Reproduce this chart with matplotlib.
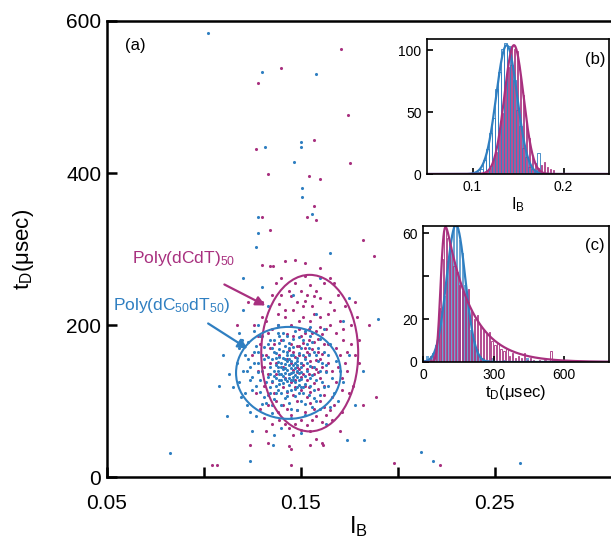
import math

import numpy as np
import matplotlib
matplotlib.use("Agg")
import matplotlib.pyplot as plt
from matplotlib.patches import Ellipse

plt.rcParams['font.family'] = ['Liberation Sans', 'DejaVu Sans']
plt.rcParams['mathtext.fontset'] = 'custom'
plt.rcParams['mathtext.rm'] = 'Liberation Sans'
plt.rcParams['mathtext.it'] = 'Liberation Sans:italic'

MAG = '#a8307f'
BLUE = '#2f7fc1'

# ---- panel (a): scatter of (I_B, t_D) per event --------------------------
blue_pts = [
    (0.141, 142), (0.146, 138), (0.138, 151), (0.150, 129), (0.143, 160),
    (0.136, 133), (0.148, 147), (0.144, 121), (0.139, 168), (0.152, 155),
    (0.147, 116), (0.134, 145), (0.142, 129), (0.149, 163), (0.137, 120),
    (0.145, 152), (0.153, 139), (0.140, 111), (0.146, 171), (0.133, 158),
    (0.151, 118), (0.144, 135), (0.138, 140), (0.148, 132), (0.142, 149),
    (0.155, 146), (0.136, 164), (0.147, 125), (0.141, 157), (0.150, 170),
    (0.139, 128), (0.145, 144), (0.152, 123), (0.143, 113), (0.137, 148),
    (0.149, 137), (0.135, 126), (0.146, 160), (0.140, 135), (0.154, 160),
    (0.128, 150), (0.125, 132), (0.131, 171), (0.129, 112), (0.126, 165),
    (0.132, 98), (0.124, 145), (0.130, 186), (0.127, 120), (0.133, 108),
    (0.158, 128), (0.161, 150), (0.157, 104), (0.163, 138), (0.159, 170),
    (0.156, 92), (0.162, 118), (0.160, 182), (0.164, 160), (0.157, 145),
    (0.140, 95), (0.145, 90), (0.150, 100), (0.136, 102), (0.148, 88),
    (0.143, 186), (0.138, 190), (0.149, 184), (0.134, 180), (0.152, 192),
    (0.120, 140), (0.118, 125), (0.121, 160), (0.119, 105), (0.166, 130),
    (0.168, 152), (0.167, 110), (0.123, 178), (0.165, 175), (0.122, 95),
    (0.130, 140), (0.133, 132), (0.131, 155), (0.156, 134), (0.155, 120),
    (0.153, 175), (0.129, 128), (0.134, 118), (0.158, 160), (0.154, 108),
    (0.142, 104), (0.147, 106), (0.137, 110), (0.144, 176), (0.141, 180),
    (0.151, 110), (0.139, 176), (0.146, 182), (0.135, 170), (0.150, 150),
    (0.143, 141), (0.147, 143), (0.144, 130), (0.139, 136), (0.141, 124),
    (0.148, 153), (0.145, 127), (0.142, 137), (0.149, 121), (0.137, 156),
    (0.144, 147), (0.140, 150), (0.146, 132), (0.142, 155), (0.148, 140),
    (0.138, 145), (0.145, 160), (0.143, 126), (0.150, 145), (0.141, 166),
    (0.147, 150), (0.139, 122), (0.152, 133), (0.136, 139), (0.144, 170),
    (0.149, 128), (0.140, 128), (0.146, 148), (0.143, 152), (0.151, 160),
    (0.137, 163), (0.148, 119), (0.142, 173), (0.145, 115), (0.134, 135),
    (0.153, 150), (0.140, 145), (0.147, 134), (0.135, 155), (0.150, 118),
    (0.132, 125), (0.155, 130), (0.130, 160), (0.157, 115), (0.128, 138),
    (0.159, 152), (0.133, 175), (0.154, 170), (0.131, 105), (0.156, 178),
    (0.126, 150), (0.160, 140), (0.127, 172), (0.161, 125), (0.125, 115),
    (0.162, 165), (0.129, 185), (0.158, 100), (0.135, 95), (0.152, 96),
    (0.144, 98), (0.139, 185), (0.147, 192), (0.141, 190), (0.124, 128),
    (0.163, 148), (0.123, 155), (0.164, 120), (0.130, 96), (0.155, 185),
    (0.138, 115), (0.149, 110), (0.143, 106), (0.136, 180), (0.151, 180),
    (0.134, 110), (0.157, 165), (0.128, 165), (0.160, 108), (0.122, 140),
    (0.145, 137), (0.142, 143), (0.148, 157), (0.139, 158), (0.146, 127),
    (0.141, 133), (0.144, 155), (0.150, 138), (0.137, 130), (0.143, 165),
    (0.117, 150), (0.115, 118), (0.124, 85), (0.127, 80), (0.135, 84),
    (0.160, 90), (0.170, 140), (0.169, 100), (0.118, 170), (0.126, 192),
    (0.138, 200), (0.155, 198), (0.162, 195), (0.145, 78), (0.152, 82),
    (0.113, 135), (0.172, 125), (0.128, 200), (0.165, 92), (0.121, 110),
    (0.110, 160), (0.108, 120), (0.175, 160), (0.178, 95), (0.120, 220),
    (0.133, 225), (0.158, 215), (0.172, 205), (0.140, 65), (0.125, 60),
    (0.163, 70), (0.112, 80), (0.146, 240), (0.130, 250), (0.160, 262),
    (0.175, 235), (0.118, 190), (0.182, 140), (0.136, 55), (0.150, 58),
    (0.190, 208), (0.1825, 49), (0.1196, 180), (0.127, 303), (0.128, 321),
    (0.165, 295), (0.1557, 346), (0.128, 342), (0.1505, 368), (0.1505, 380),
    (0.1464, 414), (0.150, 441), (0.150, 434), (0.1314, 434), (0.1577, 530),
    (0.130, 533), (0.102, 584), (0.0825, 31), (0.1237, 21), (0.1356, 42),
    (0.1737, 49), (0.212, 33), (0.218, 21), (0.263, 18), (0.120, 262),
]

mag_pts = [
    (0.152, 158), (0.148, 172), (0.156, 145), (0.145, 150), (0.159, 181),
    (0.150, 132), (0.154, 195), (0.147, 118), (0.161, 162), (0.143, 188),
    (0.157, 124), (0.151, 176), (0.146, 141), (0.163, 139), (0.149, 205),
    (0.155, 112), (0.144, 167), (0.160, 198), (0.153, 127), (0.158, 154),
    (0.142, 130), (0.150, 185), (0.162, 175), (0.147, 158), (0.156, 168),
    (0.141, 145), (0.164, 150), (0.153, 142), (0.145, 200), (0.159, 116),
    (0.148, 100), (0.155, 98), (0.151, 210), (0.157, 215), (0.143, 112),
    (0.162, 108), (0.146, 220), (0.154, 180), (0.160, 130), (0.149, 160),
    (0.136, 175), (0.134, 150), (0.138, 200), (0.135, 125), (0.139, 228),
    (0.137, 100), (0.133, 190), (0.140, 240), (0.132, 160), (0.138, 85),
    (0.168, 190), (0.170, 160), (0.167, 220), (0.171, 130), (0.166, 105),
    (0.169, 240), (0.172, 180), (0.165, 88), (0.173, 150), (0.168, 125),
    (0.150, 245), (0.155, 252), (0.145, 238), (0.160, 235), (0.152, 232),
    (0.158, 80), (0.150, 75), (0.145, 82), (0.162, 92), (0.141, 95),
    (0.142, 210), (0.164, 215), (0.157, 238), (0.147, 255), (0.153, 68),
    (0.161, 72), (0.144, 65), (0.155, 60), (0.165, 200), (0.137, 135),
    (0.130, 210), (0.131, 120), (0.129, 175), (0.176, 200), (0.175, 110),
    (0.174, 165), (0.133, 95), (0.171, 85), (0.135, 240), (0.167, 255),
    (0.151, 147), (0.154, 136), (0.149, 172), (0.156, 190), (0.152, 120),
    (0.158, 142), (0.146, 185), (0.153, 165), (0.148, 138), (0.161, 188),
    (0.150, 150), (0.154, 162), (0.148, 145), (0.157, 135), (0.152, 190),
    (0.145, 175), (0.159, 165), (0.147, 128), (0.155, 205), (0.150, 115),
    (0.161, 145), (0.143, 155), (0.156, 225), (0.149, 195), (0.153, 105),
    (0.158, 192), (0.144, 135), (0.162, 120), (0.151, 225), (0.146, 108),
    (0.164, 175), (0.140, 180), (0.160, 210), (0.142, 220), (0.157, 90),
    (0.148, 88), (0.163, 195), (0.139, 160), (0.166, 140), (0.141, 118),
    (0.168, 170), (0.137, 150), (0.165, 230), (0.138, 215), (0.167, 95),
    (0.136, 110), (0.170, 205), (0.134, 170), (0.169, 145), (0.135, 195),
    (0.153, 240), (0.148, 230), (0.158, 245), (0.144, 245), (0.152, 85),
    (0.156, 75), (0.147, 70), (0.160, 100), (0.143, 90), (0.163, 82),
    (0.151, 135), (0.155, 152), (0.149, 142), (0.154, 118), (0.157, 178),
    (0.146, 165), (0.160, 155), (0.152, 170), (0.145, 125), (0.159, 138),
    (0.133, 135), (0.132, 205), (0.171, 115), (0.172, 195), (0.131, 145),
    (0.174, 140), (0.130, 230), (0.173, 225), (0.137, 255), (0.162, 255),
    (0.142, 70), (0.150, 62), (0.166, 75), (0.139, 75), (0.176, 175),
    (0.128, 185), (0.178, 160), (0.127, 110), (0.179, 210), (0.131, 78),
    (0.140, 262), (0.152, 265), (0.165, 262), (0.178, 230), (0.180, 180),
    (0.128, 140), (0.126, 200), (0.129, 90), (0.177, 120), (0.146, 55),
    (0.158, 50), (0.135, 70), (0.170, 60), (0.180, 150), (0.125, 160),
    (0.185, 200), (0.123, 230), (0.182, 95), (0.132, 60), (0.160, 275),
    (0.117, 200), (0.1887, 105), (0.130, 279), (0.134, 278), (0.1355, 278),
    (0.142, 284), (0.147, 285), (0.152, 282), (0.182, 312), (0.188, 291),
    (0.134, 325), (0.158, 338), (0.153, 342), (0.130, 342), (0.1567, 357),
    (0.1598, 392), (0.1541, 396), (0.133, 399), (0.1753, 413), (0.1567, 443),
    (0.1268, 432), (0.1742, 476), (0.1278, 518), (0.140, 538), (0.1706, 563),
    (0.104, 16), (0.1067, 16), (0.124, 42), (0.133, 45), (0.144, 41),
    (0.145, 37), (0.145, 16), (0.155, 42), (0.161, 45), (0.1615, 42),
    (0.198, 18), (0.222, 16),
]

# ellipses: (centre I_B, centre t_D, full width, full height)
blue_ell = (0.1436, 137, 0.054, 121)
mag_ell = (0.1546, 163, 0.050, 206)

# ---- panel (b): I_B histograms and Gaussian fits --------------------------
ib_bin_start = 0.1000
ib_bin_width = 0.0033
ib_blue_counts = [0, 1, 2, 4, 11, 20, 33, 45, 69, 82, 101, 106, 103, 88, 76,
                  52, 39, 21, 14, 6, 4, 2, 17, 0, 0, 0, 0, 0, 0, 0, 0]
ib_mag_counts = [0, 0, 0, 1, 1, 3, 5, 12, 18, 35, 49, 73, 86, 103, 101,
                 99, 79, 64, 41, 29, 14, 9, 5, 7, 10, 6, 4, 3, 1, 0, 0]
ib_blue_fit = (104, 0.1375, 0.0115)   # amplitude, centre, sigma
ib_mag_fit = (104, 0.1455, 0.0105)

# ---- panel (c): t_D histograms and fits -----------------------------------
td_bin_width = 12.5
td_blue_counts = [1, 3, 2, 4, 8, 12, 24, 31, 47, 54, 64, 63, 57, 51, 36, 28,
                  15, 10, 6, 3, 2, 1, 1, 2, 0, 0, 0, 1, 0, 0, 0, 0, 0, 0, 0,
                  2, 0, 0, 0, 0, 0, 0, 0, 0, 1]
td_mag_counts = [0, 1, 3, 4, 8, 25, 48, 63, 58, 52, 45, 42, 36, 33, 30, 34,
                 24, 20, 22, 17, 15, 13, 14, 10, 8, 9, 6, 5, 6, 3, 4, 2, 3,
                 2, 4, 1, 2, 1, 0, 1, 0, 1, 0, 5, 0]
td_blue_fit = (64, 140, 40)            # amplitude, centre, sigma
td_mag_fit = (63, 75, 12, 110)         # peak, mu, sigma, tau (ex-Gaussian)


def gauss(x, amp, mu, sig):
    return amp * np.exp(-0.5 * ((x - mu) / sig) ** 2)


def ex_gauss(x, peak, mu, sig, tau):
    lam = 1.0 / tau
    arg = (mu + lam * sig ** 2 - x) / (math.sqrt(2) * sig)
    y = np.exp(0.5 * lam * (2 * mu + lam * sig ** 2 - 2 * x)) \
        * np.array([math.erfc(a) for a in arg])
    return peak * y / y.max()


def style_axes(ax, lw, tick_len, label_size, xpad=4):
    for side in ('left', 'bottom', 'top', 'right'):
        ax.spines[side].set_linewidth(lw)
    ax.tick_params(direction='in', length=tick_len, width=lw,
                   labelsize=label_size, top=False, right=False, pad=4)
    ax.tick_params(axis='x', pad=xpad)


fig = plt.figure(figsize=(6.11, 5.57), dpi=100)

# main axes, running off the right edge of the picture
ax = fig.add_axes([0.175, 0.1436, 0.825, 0.8187])
bx, by = zip(*blue_pts)
mx, my = zip(*mag_pts)
ax.scatter(mx, my, s=5, color=MAG, lw=0, zorder=2)
ax.scatter(bx, by, s=5, color=BLUE, lw=0, zorder=2)
for (cx, cy, w, h), col in ((mag_ell, MAG), (blue_ell, BLUE)):
    ax.add_patch(Ellipse((cx, cy), w, h, fill=False, edgecolor=col,
                         lw=1.5, zorder=3))
ax.set_xlim(0.05, 0.31)
ax.set_ylim(0, 600)
ax.set_xticks([0.05, 0.10, 0.15, 0.20, 0.25])
ax.set_xticklabels(['0.05', '', '0.15', '', '0.25'])
ax.set_yticks([0, 200, 400, 600])
style_axes(ax, 1.8, 7, 15, xpad=12)
ax.spines['right'].set_visible(False)
ax.set_xlabel(r'I$_\mathrm{B}$', fontsize=17, labelpad=1)
ax.set_ylabel(r't$_\mathrm{D}$(μsec)', fontsize=16, labelpad=22)
ax.text(0.036, 0.947, '(a)', transform=ax.transAxes, fontsize=12,
        ha='left', va='center')

ax.annotate('', xy=(0.133, 224), xytext=(0.1093, 255),
            arrowprops=dict(arrowstyle='-|>', color=MAG, lw=1.6,
                            mutation_scale=14))
ax.annotate('', xy=(0.1237, 167), xytext=(0.101, 204),
            arrowprops=dict(arrowstyle='-|>', color=BLUE, lw=1.6,
                            mutation_scale=14))
ax.text(0.0629, 288, r'Poly(dCdT)$_{50}$', color=MAG, fontsize=12.5,
        ha='left', va='center')
ax.text(0.0531, 226, r'Poly(dC$_{50}$dT$_{50}$)', color=BLUE, fontsize=12.5,
        ha='left', va='center')

# inset (b)
axb = fig.add_axes([0.6989, 0.6876, 0.2979, 0.2424])
centres = ib_bin_start + ib_bin_width * np.arange(len(ib_blue_counts))
axb.bar(centres, ib_blue_counts, width=ib_bin_width * 0.8, fill=False,
        edgecolor=BLUE, lw=0.6)
axb.bar(centres, ib_mag_counts, width=ib_bin_width * 0.45, fill=False,
        edgecolor=MAG, lw=0.6)
xs = np.linspace(0.05, 0.25, 400)
axb.plot(xs, gauss(xs, *ib_blue_fit), color=BLUE, lw=1.6)
axb.plot(xs, gauss(xs, *ib_mag_fit), color=MAG, lw=1.6)
axb.set_xlim(0.05, 0.25)
axb.set_ylim(0, 109)
axb.set_xticks([0.1, 0.2])
axb.set_xticklabels(['0.1', '0.2'])
axb.set_yticks([0, 50, 100])
style_axes(axb, 1.2, 4, 10)
axb.set_xlabel(r'I$_\mathrm{B}$', fontsize=12, labelpad=1)
axb.text(0.978, 0.85, '(b)', transform=axb.transAxes, fontsize=12,
         ha='right', va='center')

# inset (c)
axc = fig.add_axes([0.6923, 0.3501, 0.3044, 0.2442])
tcent = td_bin_width * (np.arange(len(td_blue_counts)) + 0.5)
axc.bar(tcent, td_blue_counts, width=td_bin_width * 0.8, color=BLUE,
        alpha=0.7, lw=0)
axc.bar(tcent, td_mag_counts, width=td_bin_width * 0.45, fill=False,
        edgecolor=MAG, lw=0.6)
ts = np.linspace(0, 790, 600)
axc.plot(ts, gauss(ts, *td_blue_fit), color=BLUE, lw=1.6)
axc.plot(ts, ex_gauss(ts, *td_mag_fit), color=MAG, lw=1.6)
axc.set_xlim(0, 790)
axc.set_ylim(0, 63.5)
axc.set_xticks([0, 300, 600])
axc.set_yticks([0, 20, 40, 60])
axc.set_yticklabels(['0', '20', '', '60'])
style_axes(axc, 1.2, 4, 10)
axc.set_xlabel(r't$_\mathrm{D}$(μsec)', fontsize=12, labelpad=1)
axc.text(0.978, 0.86, '(c)', transform=axc.transAxes, fontsize=12,
         ha='right', va='center')

fig.savefig('out.png', dpi=100)
